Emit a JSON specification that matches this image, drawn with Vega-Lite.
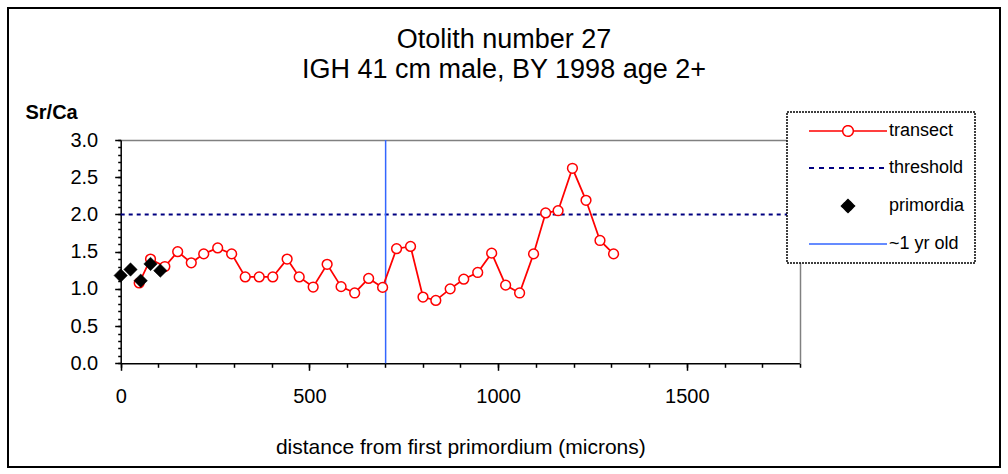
{
  "$schema": "https://vega.github.io/schema/vega-lite/v6.json",
  "width": 992,
  "height": 459,
  "autosize": "none",
  "padding": {"left": 8, "top": 8, "right": 8, "bottom": 7},
  "background": "white",
  "title": {
    "text": ["Otolith number 27", "IGH 41 cm male, BY 1998 age 2+"],
    "anchor": "middle",
    "frame": "group",
    "baseline": "alphabetic",
    "offset": -38,
    "dy": 59,
    "fontSize": 27,
    "lineHeight": 30,
    "font": "Liberation Sans",
    "fontWeight": "normal",
    "color": "black"
  },
  "datasets": {
    "transect": [
      {"distance": 49, "srca": 1.08},
      {"distance": 79, "srca": 1.40},
      {"distance": 117, "srca": 1.30},
      {"distance": 151, "srca": 1.50},
      {"distance": 187, "srca": 1.35},
      {"distance": 220, "srca": 1.47},
      {"distance": 257, "srca": 1.55},
      {"distance": 294, "srca": 1.47},
      {"distance": 330, "srca": 1.16},
      {"distance": 367, "srca": 1.16},
      {"distance": 403, "srca": 1.16},
      {"distance": 441, "srca": 1.40},
      {"distance": 473, "srca": 1.16},
      {"distance": 510, "srca": 1.025},
      {"distance": 547, "srca": 1.33},
      {"distance": 584, "srca": 1.03},
      {"distance": 620, "srca": 0.945},
      {"distance": 657, "srca": 1.14},
      {"distance": 694, "srca": 1.02},
      {"distance": 731, "srca": 1.54},
      {"distance": 768, "srca": 1.57},
      {"distance": 801, "srca": 0.89},
      {"distance": 835, "srca": 0.845},
      {"distance": 873, "srca": 1.00},
      {"distance": 909, "srca": 1.13},
      {"distance": 946, "srca": 1.22},
      {"distance": 983, "srca": 1.48},
      {"distance": 1020, "srca": 1.05},
      {"distance": 1057, "srca": 0.945},
      {"distance": 1094, "srca": 1.47},
      {"distance": 1126, "srca": 2.02},
      {"distance": 1159, "srca": 2.05},
      {"distance": 1197, "srca": 2.62},
      {"distance": 1233, "srca": 2.19},
      {"distance": 1270, "srca": 1.65},
      {"distance": 1306, "srca": 1.47}
    ],
    "primordia": [
      {"distance": 0, "srca": 1.18},
      {"distance": 26, "srca": 1.26},
      {"distance": 53, "srca": 1.11},
      {"distance": 79, "srca": 1.335},
      {"distance": 105, "srca": 1.245}
    ],
    "threshold": [{"from": 0, "to": 1800, "level": 2}],
    "yearone": [{"distance": 702, "low": 0, "high": 3}]
  },
  "resolve": {"axis": {"x": "independent", "y": "independent"}},
  "layer": [
    {
      "data": {"name": "threshold"},
      "mark": {"type": "rule", "color": "#000080", "strokeWidth": 2, "strokeDash": [4, 4]},
      "encoding": {
        "x": {"field": "from", "type": "quantitative",
          "scale": {"domain": [0, 1800], "range": [112.7, 792], "nice": false, "zero": false},
          "axis": {"orient": "top", "offset": -132, "domainColor": "#808080", "domainWidth": 1.5, "ticks": false, "labels": false, "title": null, "grid": false}},
        "x2": {"field": "to"},
        "y": {"field": "level", "type": "quantitative",
          "scale": {"domain": [0, 3], "range": [355.3, 132], "nice": false, "zero": false},
          "axis": {"orient": "right", "offset": -200, "domainColor": "#808080", "domainWidth": 1.5, "ticks": false, "labels": false, "title": null, "grid": false}}
      }
    },
    {
      "data": {"name": "yearone"},
      "mark": {"type": "rule", "color": "#3366FF", "strokeWidth": 1.5},
      "encoding": {
        "x": {"field": "distance", "type": "quantitative",
          "axis": {"orient": "bottom", "offset": -103.7, "values": [0,100,200,300,400,500,600,700,800,900,1000,1100,1200,1300,1400,1500,1600,1700,1800], "labels": false, "domain": false, "tickSize": 4, "tickColor": "black", "tickWidth": 1.5, "title": null, "grid": false}},
        "y": {"field": "low", "type": "quantitative",
          "axis": {"orient": "left", "offset": -112.7, "values": [0,0.1,0.2,0.3,0.4,0.5,0.6,0.7,0.8,0.9,1,1.1,1.2,1.3,1.4,1.5,1.6,1.7,1.8,1.9,2,2.1,2.2,2.3,2.4,2.5,2.6,2.7,2.8,2.9,3], "labels": false, "domain": false, "tickSize": 3, "tickColor": "black", "tickWidth": 1.5, "title": null, "grid": false}},
        "y2": {"field": "high"}
      }
    },
    {
      "data": {"name": "transect"},
      "mark": {"type": "line", "strokeWidth": 1.75},
      "encoding": {
        "x": {"field": "distance", "type": "quantitative",
          "axis": {"orient": "bottom", "offset": -103.7, "values": [0, 500, 1000, 1500], "format": "d", "labelFontSize": 20, "labelPadding": 16, "labelFlush": false, "labelOverlap": false, "tickSize": 7, "tickColor": "black", "tickWidth": 1.5, "domainColor": "black", "domainWidth": 1.5, "grid": false,
            "title": "distance from first primordium (microns)", "titleFontSize": 21, "titleFontWeight": "normal", "titleBaseline": "alphabetic", "titleY": 90}},
        "y": {"field": "srca", "type": "quantitative",
          "axis": {"orient": "left", "offset": -112.7, "values": [0, 0.5, 1, 1.5, 2, 2.5, 3], "format": ".1f", "labelFontSize": 20, "labelPadding": 17, "labelFlush": false, "labelOverlap": false, "tickSize": 6, "tickColor": "black", "tickWidth": 1.5, "domainColor": "black", "domainWidth": 1.5, "grid": false,
            "title": "Sr/Ca", "titleAngle": 0, "titleFontSize": 20, "titleFontWeight": "bold", "titleAlign": "left", "titleBaseline": "alphabetic", "titleX": -95.7, "titleY": 110.3}},
        "color": {"datum": "transect", "type": "nominal",
          "scale": {"domain": ["transect", "threshold", "primordia", "~1 yr old"], "range": ["#FF0000", "#000080", "#000000", "#3366FF"]},
          "legend": {
            "orient": "none", "legendX": 779, "legendY": 104, "title": null,
            "fillColor": "white", "strokeColor": "black", "padding": 10, "rowPadding": 19,
            "labelFontSize": 18, "labelFont": "Liberation Sans", "labelColor": "black",
            "labelOffset": 71, "symbolOffset": 3, "symbolSize": 100,
            "labelExpr": "datum.label + '\u00a0'",
            "encode": {
              "legend": {"update": {"strokeDash": {"value": [2, 1]}, "strokeWidth": {"value": 1.5}}},
              "symbols": {"update": {
                "shape": {"signal": "datum.value === 'transect' ? 'M0,0H6.74M8.86,0H15.6M6.74,0A1.06,1.06 0 1,0 8.86,0A1.06,1.06 0 1,0 6.74,0' : datum.value === 'primordia' ? 'M7.8,-1.3L9.1,0L7.8,1.3L6.5,0Z' : 'M0,0H15.6'"},
                "fill": {"signal": "datum.value === 'primordia' ? 'black' : datum.value === 'transect' ? 'white' : 'transparent'"},
                "stroke": {"signal": "datum.value === 'transect' ? '#FF0000' : datum.value === 'threshold' ? '#000080' : datum.value === 'primordia' ? 'black' : '#3366FF'"},
                "strokeDash": {"signal": "datum.value === 'threshold' ? [5, 5] : [1, 0]"},
                "strokeWidth": {"signal": "datum.value === 'threshold' ? 2 : 1.5"},
                "size": {"value": 100},
                "opacity": {"value": 1},
                "fillOpacity": {"value": 1},
                "strokeOpacity": {"value": 1}
              }}
            }
          }}
      }
    },
    {
      "data": {"name": "transect"},
      "mark": {"type": "point", "shape": "circle", "filled": true, "fill": "white", "stroke": "#FF0000", "strokeWidth": 1.5, "size": 95, "opacity": 1},
      "encoding": {
        "x": {"field": "distance", "type": "quantitative", "axis": null},
        "y": {"field": "srca", "type": "quantitative", "axis": null}
      }
    },
    {
      "data": {"name": "primordia"},
      "mark": {"type": "point", "shape": "diamond", "filled": true, "fill": "black", "stroke": "black", "strokeWidth": 0.5, "size": 180, "opacity": 1},
      "encoding": {
        "x": {"field": "distance", "type": "quantitative", "axis": null},
        "y": {"field": "srca", "type": "quantitative", "axis": null}
      }
    }
  ],
  "config": {
    "font": "Liberation Sans",
    "view": {"stroke": "black", "strokeWidth": 2},
    "axis": {"labelFont": "Liberation Sans", "titleFont": "Liberation Sans", "labelColor": "black", "titleColor": "black", "grid": false}
  }
}
